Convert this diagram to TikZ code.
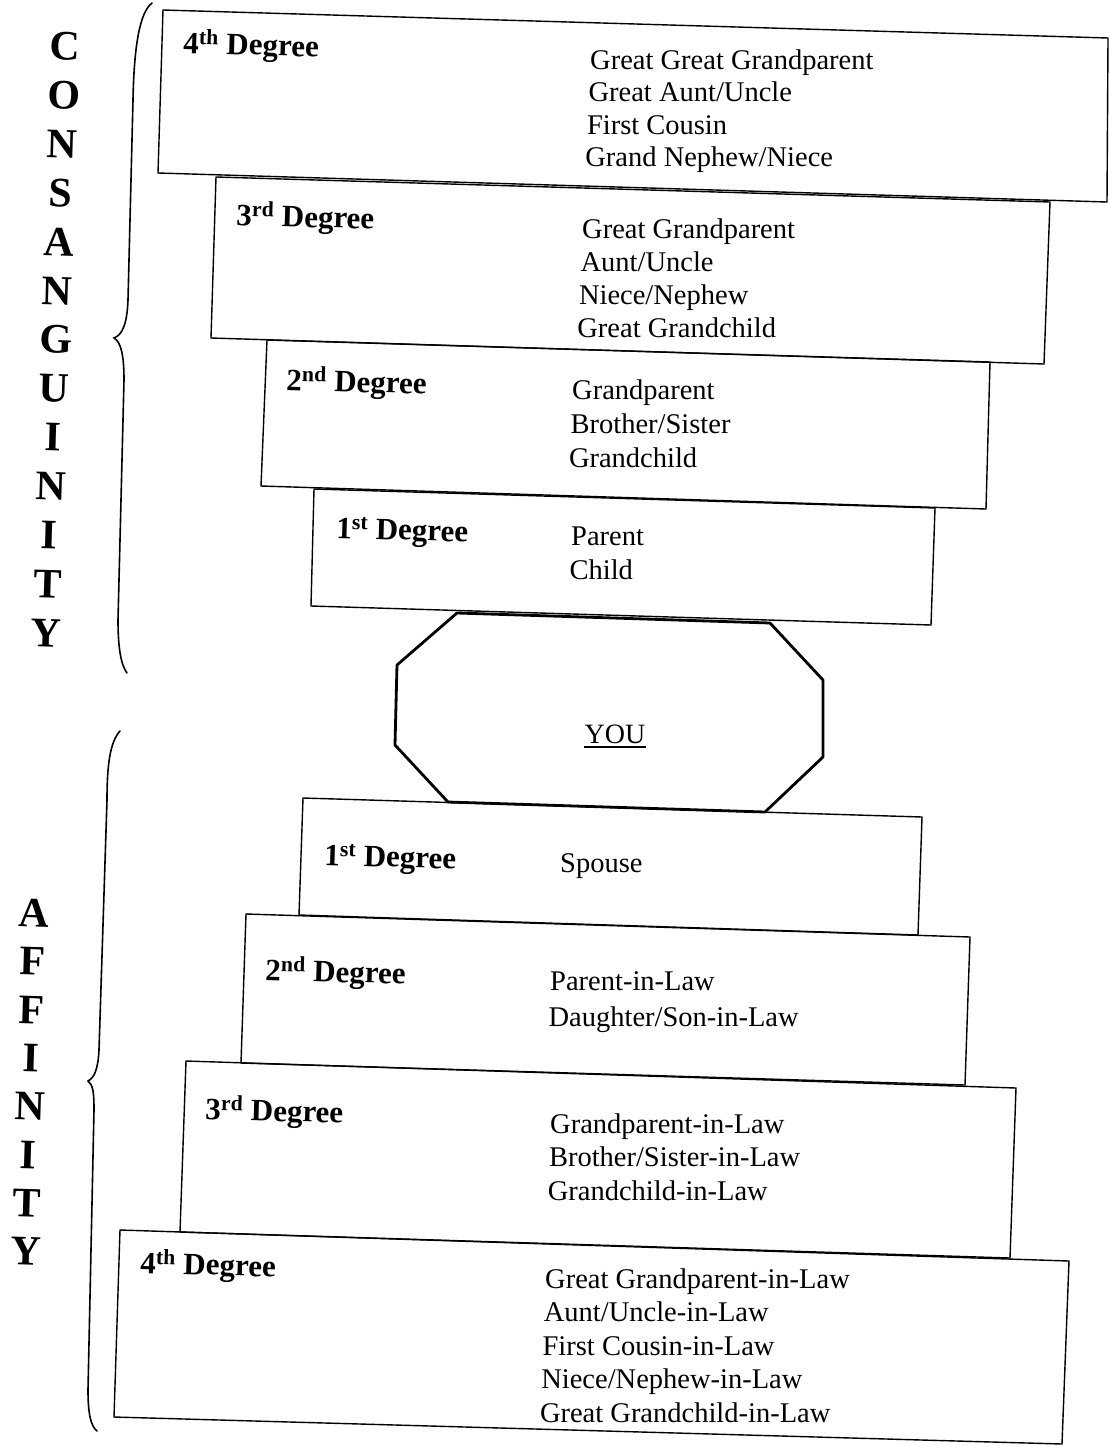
\documentclass[tikz,border=0pt]{standalone}
\usepackage{fontspec}
\setmainfont{Liberation Serif}
\begin{document}
\begin{tikzpicture}[x=1pt,y=-1pt,
  boxline/.style={line width=1.4pt, line join=miter},
  octline/.style={line width=2.8pt, line join=round},
  bracel/.style={line width=1.6pt, line cap=round},
  head/.style={font=\fontsize{31}{36}\selectfont\bfseries, inner sep=0pt, anchor=base west, rotate=-1.7},
  item/.style={font=\fontsize{28.5}{33}\selectfont, inner sep=0pt, anchor=base west},
  vlet/.style={font=\fontsize{42}{48}\selectfont\bfseries, inner sep=0pt, anchor=base, rotate=-1.7}]
\useasboundingbox (0,0) rectangle (1109,1446);

% ---------- Consanguinity boxes ----------
\coordinate (c4a) at (163,10);  \coordinate (c4b) at (1108,38);
\coordinate (c4c) at (1107,202); \coordinate (c4d) at (158,173);
\coordinate (c3a) at (216,177); \coordinate (c3b) at (1050,202);
\coordinate (c3c) at (1044,364); \coordinate (c3d) at (211,338);
\coordinate (c2a) at (267,340); \coordinate (c2b) at (990,362);
\coordinate (c2c) at (986,509); \coordinate (c2d) at (261,486);
\coordinate (c1a) at (314,489); \coordinate (c1b) at (935,508);
\coordinate (c1c) at (931,625); \coordinate (c1d) at (311,606);
\draw[boxline] (c4a) -- (c4b) -- (c4c) -- (c4d) -- cycle;
\draw[boxline] (c3a) -- (c3b) -- (c3c) -- (c3d) -- cycle;
\draw[boxline] (c2a) -- (c2b) -- (c2c) -- (c2d) -- cycle;
\draw[boxline] (c1a) -- (c1b) -- (c1c) -- (c1d) -- cycle;

% ---------- Affinity boxes ----------
\coordinate (a1a) at (303,798); \coordinate (a1b) at (922,817);
\coordinate (a1c) at (918,935); \coordinate (a1d) at (299,915);
\coordinate (a2a) at (246,914); \coordinate (a2b) at (970,937);
\coordinate (a2c) at (965,1085); \coordinate (a2d) at (241,1063);
\coordinate (a3a) at (186,1061); \coordinate (a3b) at (1016,1088);
\coordinate (a3c) at (1010,1258); \coordinate (a3d) at (180,1232);
\coordinate (a4a) at (120,1230); \coordinate (a4b) at (1069,1261);
\coordinate (a4c) at (1062,1444); \coordinate (a4d) at (114,1417);
\draw[boxline] (a1a) -- (a1b) -- (a1c) -- (a1d) -- cycle;
\draw[boxline] (a2a) -- (a2b) -- (a2c) -- (a2d) -- cycle;
\draw[boxline] (a3a) -- (a3b) -- (a3c) -- (a3d) -- cycle;
\draw[boxline] (a4a) -- (a4b) -- (a4c) -- (a4d) -- cycle;

% ---------- YOU octagon ----------
\coordinate (o1) at (457,613); \coordinate (o2) at (770,623);
\coordinate (o3) at (823,680); \coordinate (o4) at (823,757);
\coordinate (o5) at (765,812); \coordinate (o6) at (448,802);
\coordinate (o7) at (395,745); \coordinate (o8) at (397,665);
\draw[octline] (o1) -- (o2) -- (o3) -- (o4) -- (o5) -- (o6) -- (o7) -- (o8) -- cycle;
\node[font=\fontsize{28}{33}\selectfont, inner sep=0pt, anchor=base] (you) at (615,743) {YOU};
\draw[line width=1.2pt] ([yshift=-4pt]you.base west) -- ([yshift=-4pt]you.base east);

% ---------- braces ----------
\coordinate (cbt) at (152,3); \coordinate (cbm) at (114,338); \coordinate (cbb) at (127,673);
\draw[bracel] (cbt) .. controls (140,12) and (134,45) .. (133,100) -- (128,300)
  .. controls (127,325) and (122,335) .. (cbm)
  .. controls (121,342) and (124,355) .. (124,380) -- (118,620)
  .. controls (118,648) and (121,665) .. (cbb);
\coordinate (abt) at (120,731); \coordinate (abm) at (88,1081); \coordinate (abb) at (97,1431);
\draw[bracel] (abt) .. controls (110,742) and (107,765) .. (107,800) -- (99,1050)
  .. controls (98,1070) and (94,1078) .. (abm)
  .. controls (93,1085) and (94,1092) .. (94,1110) -- (88,1390)
  .. controls (88,1415) and (91,1426) .. (abb);

% ---------- vertical words ----------
\foreach \l [count=\i from 0] in {C,O,N,S,A,N,G,U,I,N,I,T,Y}
  \node[vlet] (cl\i) at ({65-1.6*\i},{60+48.9*\i}) {\l};
\foreach \l [count=\i from 0] in {A,F,F,I,N,I,T,Y}
  \node[vlet] (al\i) at ({34-1.2*\i},{927+48.3*\i}) {\l};

% ---------- headings ----------
\node[head] (hc4) at (183,53) {4\textsuperscript{th} Degree};
\node[head] (hc3) at (236,225) {3\textsuperscript{rd} Degree};
\node[head] (hc2) at (286,390) {2\textsuperscript{nd} Degree};
\node[head] (hc1) at (336,538) {1\textsuperscript{st} Degree};
\node[head] (ha1) at (324,865) {1\textsuperscript{st} Degree};
\node[head] (ha2) at (265,980) {2\textsuperscript{nd} Degree};
\node[head] (ha3) at (205,1119) {3\textsuperscript{rd} Degree};
\node[head] (ha4) at (140,1273) {4\textsuperscript{th} Degree};

% ---------- lists ----------
\foreach \t [count=\i from 0] in {Great Great Grandparent,Great Aunt/Uncle,First Cousin,Grand Nephew/Niece}
  \node[item] (lc4\i) at ({590-1.6*\i},{69+32.5*\i}) {\t};
\foreach \t [count=\i from 0] in {Great Grandparent,Aunt/Uncle,Niece/Nephew,Great Grandchild}
  \node[item] (lc3\i) at ({582-1.6*\i},{238+33.3*\i}) {\t};
\foreach \t [count=\i from 0] in {Grandparent,Brother/Sister,Grandchild}
  \node[item] (lc2\i) at ({572-1.6*\i},{399+34*\i}) {\t};
\foreach \t [count=\i from 0] in {Parent,Child}
  \node[item] (lc1\i) at ({571-1.6*\i},{545+34*\i}) {\t};
\node[item] (la10) at (560,872) {Spouse};
\foreach \t [count=\i from 0] in {Parent-in-Law,Daughter/Son-in-Law}
  \node[item] (la2\i) at ({550-1.6*\i},{990+36*\i}) {\t};
\foreach \t [count=\i from 0] in {Grandparent-in-Law,Brother/Sister-in-Law,Grandchild-in-Law}
  \node[item] (la3\i) at ({550-1.2*\i},{1133+33.5*\i}) {\t};
\foreach \t [count=\i from 0] in {Great Grandparent-in-Law,Aunt/Uncle-in-Law,First Cousin-in-Law,Niece/Nephew-in-Law,Great Grandchild-in-Law}
  \node[item] (la4\i) at ({545-1.3*\i},{1288+33.5*\i}) {\t};
\end{tikzpicture}
\end{document}
